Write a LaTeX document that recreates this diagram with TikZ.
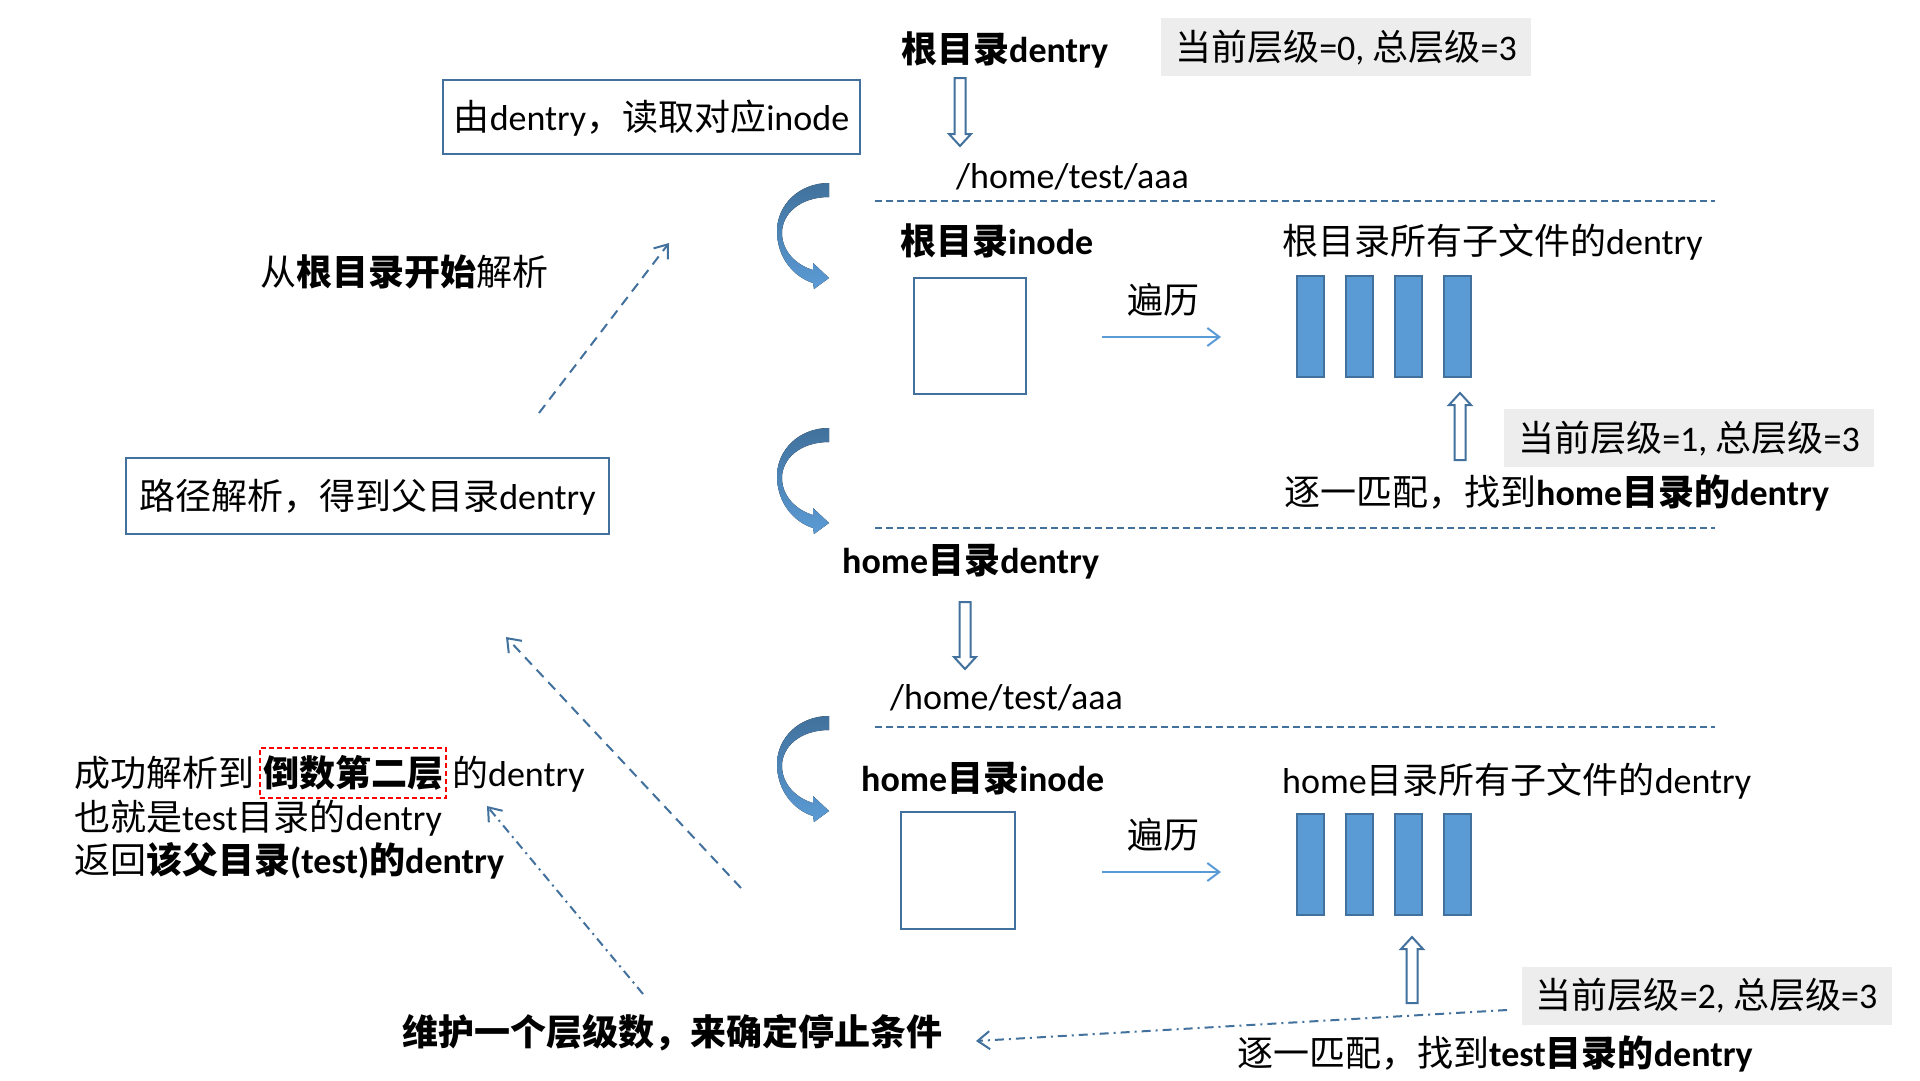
\documentclass[tikz,border=0pt]{standalone}
\usepackage{fontspec}
\setmainfont{Carlito}
\newfontfamily\cjk{Noto Sans CJK SC}
\usetikzlibrary{arrows.meta, positioning, calc}
\definecolor{pblue}{HTML}{41719C}
\definecolor{lblue}{HTML}{5B9BD5}
\definecolor{lgray}{HTML}{EDEDED}
\tikzstyle{txt}=[inner sep=0pt, anchor=west, text height=31pt, text depth=5pt]
\tikzstyle{box}=[draw=pblue, line width=2pt, fill=white, inner sep=0pt, text height=31pt, text depth=5pt]
\tikzstyle{lvlbox}=[fill=lgray, minimum width=370pt, minimum height=58pt, inner sep=0pt, text height=31pt, text depth=5pt]
\tikzstyle{bar}=[draw=pblue, line width=2pt, fill=lblue, minimum width=27pt, minimum height=101pt, inner sep=0pt]
\tikzstyle{dashsep}=[pblue, line width=2pt, dash pattern=on 7pt off 4pt]
\tikzstyle{trav}=[lblue, line width=2pt, -{Straight Barb[length=12pt, width=18pt]}]
\tikzstyle{back}=[pblue, line width=2pt, dash pattern=on 10pt off 7pt, -{Straight Barb[length=12pt, width=18pt]}]
\tikzstyle{backdot}=[pblue, line width=2pt, dash pattern=on 9pt off 5pt on 2pt off 5pt, -{Straight Barb[length=12pt, width=18pt]}]
\tikzstyle{hollow}=[draw=pblue, line width=2pt, fill=white]
\tikzstyle{bendfill}=[top color=pblue, bottom color=lblue, draw=none]
\newcommand{\zh}[1]{{\cjk #1}}
% block arrow with an open body, from #1 to #2
\newcommand{\hollowarrow}[2]{%
\coordinate (hb) at ($(#2)!12pt!(#1)$);
\filldraw[hollow] ($(#1)!5.5pt!90:(#2)$) -- ($(hb)!5.5pt!90:(#2)$) -- ($(hb)!11pt!90:(#2)$) -- (#2)
  -- ($(hb)!11pt!-90:(#2)$) -- ($(hb)!5.5pt!-90:(#2)$) -- ($(#1)!5.5pt!-90:(#2)$) -- cycle;
}
% curved turn arrow, top right corner at (#1,#2)
\newcommand{\bendarrow}[2]{%
\fill[bendfill, shift={(#1,#2)}] (0,0) .. controls (-30,0) and (-52,22) .. (-52,48)
  .. controls (-52,75) and (-35,94) .. (-16,100) -- (-15,106) -- (0,95) -- (-16,80) -- (-16,87)
  .. controls (-33,82) and (-47,68) .. (-47,50) .. controls (-47,30) and (-28,14) .. (0,14) -- cycle;
}

\begin{document}
\begin{tikzpicture}[x=1pt, y=-1pt, font=\fontsize{36}{43}\selectfont]
\useasboundingbox[fill=white] (0,0) rectangle (1920,1080);
% upper level: root
\node[txt] (root_d) at (901,49) {\textbf{\zh{根目录}dentry}};
\node[lvlbox] (lvl0) at (1346,47) {\zh{当前层级}=0, \zh{总层级}=3};
\node[box, minimum width=417pt, minimum height=74pt] (read_box) at (651.5,117) {\zh{由}dentry\zh{，读取对应}inode};
\coordinate (d1s) at (960,78);
\coordinate (d1e) at (960,146);
\hollowarrow{d1s}{d1e}
\node[txt] (path1) at (956,175) {/home/test/aaa};
\draw[dashsep] (875,201) -- (1715,201);
\bendarrow{829}{183}
\node[txt] (root_i) at (900,241) {\textbf{\zh{根目录}inode}};
\node[box, minimum width=112pt, minimum height=116pt] (root_box) at (970,336) {};
\node[txt] (trav1) at (1127,300) {\zh{遍历}};
\coordinate (t1s) at (1102,337);
\coordinate (t1e) at (1221,337);
\draw[trav] (t1s) -- (t1e);
\node[txt] (subs1) at (1282,241) {\zh{根目录所有子文件的}dentry};
\foreach \i in {0,...,3}
  \node[bar] (bar1_\i) at (1310.5+49*\i,326.5) {};
\coordinate (u1s) at (1460,460);
\coordinate (u1e) at (1460,393);
\hollowarrow{u1s}{u1e}
\node[lvlbox] (lvl1) at (1689,438) {\zh{当前层级}=1, \zh{总层级}=3};
\node[txt] (match1) at (1284,492) {\zh{逐一匹配，找到}\textbf{home\zh{目录的}dentry}};
\bendarrow{829}{428}
\draw[dashsep] (875,528) -- (1715,528);
% lower level: home
\node[txt] (home_d) at (842,560) {\textbf{home\zh{目录}dentry}};
\coordinate (d2s) at (965,602);
\coordinate (d2e) at (965,669);
\hollowarrow{d2s}{d2e}
\node[txt] (path2) at (890,696) {/home/test/aaa};
\draw[dashsep] (875,727) -- (1715,727);
\bendarrow{829}{716}
\node[txt] (home_i) at (861,778) {\textbf{home\zh{目录}inode}};
\node[box, minimum width=114pt, minimum height=117pt] (home_box) at (958,870.5) {};
\node[txt] (trav2) at (1127,835) {\zh{遍历}};
\coordinate (t2s) at (1102,872);
\coordinate (t2e) at (1221,872);
\draw[trav] (t2s) -- (t2e);
\node[txt] (subs2) at (1282,780) {home\zh{目录所有子文件的}dentry};
\foreach \i in {0,...,3}
  \node[bar] (bar2_\i) at (1310.5+49*\i,864.5) {};
\coordinate (u2s) at (1412,1003);
\coordinate (u2e) at (1412,937);
\hollowarrow{u2s}{u2e}
\node[lvlbox] (lvl2) at (1706.5,995.5) {\zh{当前层级}=2, \zh{总层级}=3};
\node[txt] (match2) at (1237,1053) {\zh{逐一匹配，找到}\textbf{test\zh{目录的}dentry}};
% left side notes
\node[txt] (from_root) at (260,272) {\zh{从}\textbf{\zh{根目录开始}}\zh{解析}};
\node[box, minimum width=483pt, minimum height=76pt] (parse_box) at (367.5,496) {\zh{路径解析，得到父目录}dentry};
\node[txt] (ret1a) at (74,773) {\zh{成功解析到}};
\node[draw=red, line width=1.5pt, dash pattern=on 5pt off 3pt, inner xsep=3pt, inner ysep=7pt, text height=31pt, text depth=5pt, right=5pt of ret1a] (ret1b) {\textbf{\zh{倒数第二层}}};
\node[txt, right=5pt of ret1b] (ret1c) {\zh{的}dentry};
\node[txt] (ret2) at (74,817) {\zh{也就是}test\zh{目录的}dentry};
\node[txt] (ret3) at (74,860) {\zh{返回}\textbf{\zh{该父目录}(test)\zh{的}dentry}};
\node[txt] (keep_lvl) at (402,1032) {\textbf{\zh{维护一个层级数，来确定停止条件}}};
\coordinate (a1s) at (539,413);
\coordinate (a1e) at (669,243);
\draw[back] (a1s) -- (a1e);
\coordinate (a2s) at (741,888);
\coordinate (a2e) at (506,637);
\draw[back] (a2s) -- (a2e);
\coordinate (a3s) at (643,994);
\coordinate (a3e) at (487,806);
\draw[backdot] (a3s) -- (a3e);
\coordinate (a4s) at (1507,1010);
\coordinate (a4e) at (976,1041);
\draw[backdot] (a4s) -- (a4e);
\end{tikzpicture}
\end{document}
